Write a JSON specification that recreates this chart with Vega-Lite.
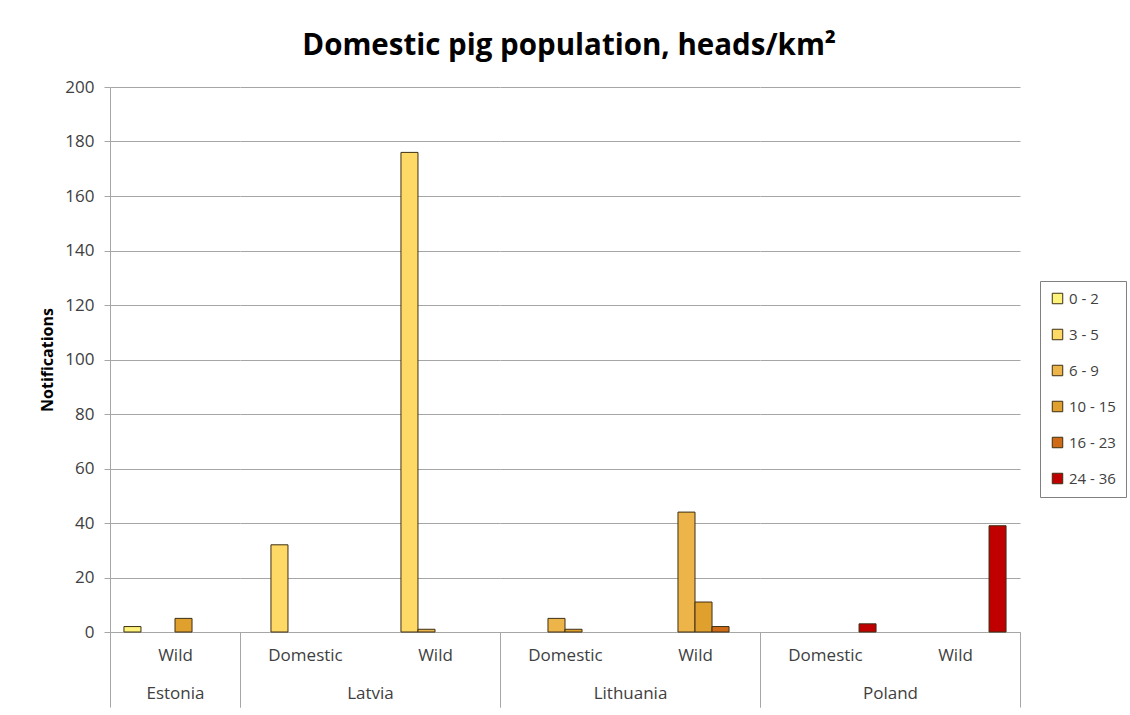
{
  "$schema": "https://vega.github.io/schema/vega-lite/v6.json",
  "background": "white",
  "padding": {"left": 39, "top": 30, "right": 0, "bottom": 0},
  "title": {
    "text": "Domestic pig population, heads/km²",
    "font": "Open Sans",
    "fontSize": 29.5,
    "fontWeight": "bold",
    "color": "#000000",
    "anchor": "middle",
    "offset": 17,
    "dx": -14
  },
  "data": {
    "values": [
      {"country": "Estonia", "type": "Wild", "range": "0 - 2", "count": 2},
      {"country": "Estonia", "type": "Wild", "range": "10 - 15", "count": 5},
      {"country": "Latvia", "type": "Domestic", "range": "3 - 5", "count": 32},
      {"country": "Latvia", "type": "Wild", "range": "3 - 5", "count": 176},
      {"country": "Latvia", "type": "Wild", "range": "6 - 9", "count": 1},
      {"country": "Lithuania", "type": "Domestic", "range": "6 - 9", "count": 5},
      {"country": "Lithuania", "type": "Domestic", "range": "10 - 15", "count": 1},
      {"country": "Lithuania", "type": "Wild", "range": "6 - 9", "count": 44},
      {"country": "Lithuania", "type": "Wild", "range": "10 - 15", "count": 11},
      {"country": "Lithuania", "type": "Wild", "range": "16 - 23", "count": 2},
      {"country": "Poland", "type": "Domestic", "range": "24 - 36", "count": 3},
      {"country": "Poland", "type": "Wild", "range": "24 - 36", "count": 39}
    ]
  },
  "spacing": 0,
  "bounds": "flush",
  "hconcat": [
    {
      "width": 130,
      "height": 545,
      "transform": [{"filter": "datum.country === 'Estonia'"}],
      "mark": {"type": "bar", "stroke": "#3d2f14", "strokeWidth": 1},
      "encoding": {
        "x": {
          "field": "type", "type": "nominal",
          "scale": {"paddingInner": 0, "paddingOuter": 0},
          "axis": {
            "title": "Estonia",
            "tickColor": {"condition": {"test": "datum.value === 'Domestic'", "value": "transparent"}, "value": "#a6a6a6"}
          }
        },
        "xOffset": {
          "field": "range", "type": "nominal",
          "scale": {"domain": ["0 - 2", "3 - 5", "6 - 9", "10 - 15", "16 - 23", "24 - 36"], "paddingInner": 0, "paddingOuter": 0.82}
        },
        "y": {
          "field": "count", "type": "quantitative",
          "scale": {"domain": [0, 200]},
          "axis": {
            "title": "Notifications",
            "titleFont": "Open Sans",
            "titleFontSize": 16,
            "titleFontWeight": "bold",
            "titleColor": "#000000",
            "titlePadding": 9,
            "values": [0, 20, 40, 60, 80, 100, 120, 140, 160, 180, 200],
            "tickSize": 6,
            "labelPadding": 10,
            "labelFontSize": 17,
            "domain": true,
            "ticks": true,
            "labels": true
          }
        },
        "color": {
          "field": "range", "type": "nominal",
          "scale": {
            "domain": ["0 - 2", "3 - 5", "6 - 9", "10 - 15", "16 - 23", "24 - 36"],
            "range": ["#FDF27A", "#FFD966", "#EDB44A", "#E0A02E", "#CF6A16", "#C00000"]
          },
          "legend": {"title": null}
        }
      }
    },
    {
      "width": 260,
      "height": 545,
      "transform": [{"filter": "datum.country === 'Latvia'"}],
      "mark": {"type": "bar", "stroke": "#3d2f14", "strokeWidth": 1},
      "encoding": {
        "x": {
          "field": "type", "type": "nominal",
          "scale": {"paddingInner": 0, "paddingOuter": 0},
          "axis": {
            "title": "Latvia",
            "tickColor": {"condition": {"test": "datum.value === 'Domestic'", "value": "transparent"}, "value": "#a6a6a6"}
          }
        },
        "xOffset": {
          "field": "range", "type": "nominal",
          "scale": {"domain": ["0 - 2", "3 - 5", "6 - 9", "10 - 15", "16 - 23", "24 - 36"], "paddingInner": 0, "paddingOuter": 0.82}
        },
        "y": {
          "field": "count", "type": "quantitative",
          "scale": {"domain": [0, 200]},
          "axis": {"title": null, "labels": false, "ticks": false, "domain": false, "values": [0, 20, 40, 60, 80, 100, 120, 140, 160, 180, 200]}
        },
        "color": {
          "field": "range", "type": "nominal",
          "scale": {
            "domain": ["0 - 2", "3 - 5", "6 - 9", "10 - 15", "16 - 23", "24 - 36"],
            "range": ["#FDF27A", "#FFD966", "#EDB44A", "#E0A02E", "#CF6A16", "#C00000"]
          },
          "legend": {"title": null}
        }
      }
    },
    {
      "width": 260,
      "height": 545,
      "transform": [{"filter": "datum.country === 'Lithuania'"}],
      "mark": {"type": "bar", "stroke": "#3d2f14", "strokeWidth": 1},
      "encoding": {
        "x": {
          "field": "type", "type": "nominal",
          "scale": {"paddingInner": 0, "paddingOuter": 0},
          "axis": {
            "title": "Lithuania",
            "tickColor": {"condition": {"test": "datum.value === 'Domestic'", "value": "transparent"}, "value": "#a6a6a6"}
          }
        },
        "xOffset": {
          "field": "range", "type": "nominal",
          "scale": {"domain": ["0 - 2", "3 - 5", "6 - 9", "10 - 15", "16 - 23", "24 - 36"], "paddingInner": 0, "paddingOuter": 0.82}
        },
        "y": {
          "field": "count", "type": "quantitative",
          "scale": {"domain": [0, 200]},
          "axis": {"title": null, "labels": false, "ticks": false, "domain": false, "values": [0, 20, 40, 60, 80, 100, 120, 140, 160, 180, 200]}
        },
        "color": {
          "field": "range", "type": "nominal",
          "scale": {
            "domain": ["0 - 2", "3 - 5", "6 - 9", "10 - 15", "16 - 23", "24 - 36"],
            "range": ["#FDF27A", "#FFD966", "#EDB44A", "#E0A02E", "#CF6A16", "#C00000"]
          },
          "legend": {"title": null}
        }
      }
    },
    {
      "width": 260,
      "height": 545,
      "transform": [{"filter": "datum.country === 'Poland'"}],
      "mark": {"type": "bar", "stroke": "#3d2f14", "strokeWidth": 1},
      "encoding": {
        "x": {
          "field": "type", "type": "nominal",
          "scale": {"paddingInner": 0, "paddingOuter": 0},
          "axis": {
            "title": "Poland",
            "tickColor": {"condition": {"test": "datum.value === 'Domestic'", "value": "transparent"}, "value": "#a6a6a6"}
          }
        },
        "xOffset": {
          "field": "range", "type": "nominal",
          "scale": {"domain": ["0 - 2", "3 - 5", "6 - 9", "10 - 15", "16 - 23", "24 - 36"], "paddingInner": 0, "paddingOuter": 0.82}
        },
        "y": {
          "field": "count", "type": "quantitative",
          "scale": {"domain": [0, 200]},
          "axis": {"title": null, "labels": false, "ticks": false, "domain": false, "values": [0, 20, 40, 60, 80, 100, 120, 140, 160, 180, 200]}
        },
        "color": {
          "field": "range", "type": "nominal",
          "scale": {
            "domain": ["0 - 2", "3 - 5", "6 - 9", "10 - 15", "16 - 23", "24 - 36"],
            "range": ["#FDF27A", "#FFD966", "#EDB44A", "#E0A02E", "#CF6A16", "#C00000"]
          },
          "legend": {"title": null}
        }
      }
    }
  ],
  "resolve": {"scale": {"y": "shared", "color": "shared"}},
  "config": {
    "font": "Open Sans",
    "view": {"stroke": null},
    "axis": {
      "labelFont": "Open Sans",
      "labelFontSize": 16,
      "labelColor": "#404040",
      "titleFont": "Open Sans",
      "domainColor": "#a6a6a6",
      "tickColor": "#a6a6a6",
      "gridColor": "#a6a6a6",
      "gridWidth": 1,
      "domainWidth": 1
    },
    "axisY": {"grid": true},
    "axisX": {
      "labelAngle": 0,
      "labelFontSize": 17,
      "tickBand": "extent",
      "tickSize": 75,
      "labelPadding": -60,
      "labelBaseline": "top",
      "titleY": 61,
      "titleBaseline": "middle",
      "titleFontSize": 17,
      "titleFontWeight": "normal",
      "titleColor": "#404040",
      "grid": false
    },
    "legend": {
      "orient": "none",
      "legendX": 930,
      "legendY": 194,
      "strokeColor": "#808080",
      "strokeWidth": 1,
      "padding": 10,
      "rowPadding": 20,
      "symbolType": "square",
      "symbolSize": 110,
      "symbolStrokeColor": "#3d2f14",
      "symbolStrokeWidth": 1,
      "symbolOpacity": 1,
      "labelFont": "Open Sans",
      "labelFontSize": 15,
      "labelColor": "#404040",
      "labelOffset": 4
    }
  }
}
